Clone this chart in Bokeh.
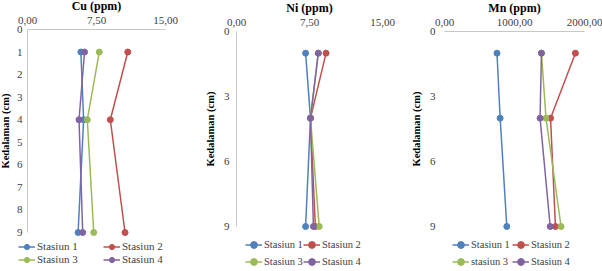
from bokeh.plotting import figure
from bokeh.models import Range1d, FixedTicker, Legend, LegendItem
from bokeh.layouts import row
from bokeh.embed import file_html
from bokeh.resources import INLINE

# Sampling depths (cm)
depth = [1, 4, 9]

stations = ["Stasiun 1", "Stasiun 2", "Stasiun 3", "Stasiun 4"]
colors = ["#4F81BD", "#C0504D", "#9BBB59", "#8064A2"]

# Cu concentration (ppm) per station at each depth
cu_s1 = [5.8, 6.1, 5.5]
cu_s2 = [10.9, 9.0, 10.6]
cu_s3 = [7.8, 6.5, 7.2]
cu_s4 = [6.2, 5.6, 6.0]

# Ni concentration (ppm)
ni_s1 = [7.1, 7.6, 7.1]
ni_s2 = [9.2, 7.6, 8.1]
ni_s3 = [8.4, 7.6, 8.5]
ni_s4 = [8.4, 7.6, 7.9]

# Mn concentration (ppm)
mn_s1 = [750, 795, 890]
mn_s2 = [1870, 1515, 1585]
mn_s3 = [1385, 1450, 1665]
mn_s4 = [1385, 1365, 1510]

cu_xticks = [0, 7.5, 15]
cu_xlabels = ["0,00", "7,50", "15,00"]
ni_xticks = [0, 7.5, 15]
ni_xlabels = ["0,00", "7,50", "15,00"]
mn_xticks = [0, 1000, 2000]
mn_xlabels = ["0,00", "1000,00", "2000,00"]

cu_yticks = [0, 1, 2, 3, 4, 5, 6, 7, 8, 9]
ni_yticks = [0, 3, 6, 9]
mn_yticks = [0, 3, 6, 9]

SERIF = "Liberation Serif"
AXIS_GRAY = "#C8C8C8"
TEXT_GRAY = "#404040"
LINE_W = 1.5
MARK = 6
H = 271
DEPTH_MAX = 9


def stretch(px0, px1, v0, v1, total):
    """Range that puts v0 at pixel px0 and v1 at pixel px1 across `total` px."""
    k = (v1 - v0) / (px1 - px0)
    return v0 - px0 * k, v0 + (total - px0) * k


def profile(title, series, names, xmax, xticks, xlabels, yticks, width,
            ax_left, ax_right, ax_top, ax_bottom, show_left_line, show_top_line,
            x_standoff, x_title_standoff, y_standoff, y_title_standoff,
            leg_x, leg_y, leg_label_w, leg_font, leg_row_h):
    x0, x1 = stretch(ax_left, ax_right, 0, xmax, width)
    top_d, bot_d = stretch(ax_top, ax_bottom, 0, DEPTH_MAX, H)
    p = figure(width=width, height=H, output_backend="svg",
               toolbar_location=None, x_axis_location="above",
               x_range=Range1d(x0, x1), y_range=Range1d(bot_d, top_d),
               min_border=0)
    p.outline_line_color = None
    p.grid.visible = False

    xa = p.xaxis[0]
    xa.fixed_location = 0
    xa.bounds = (0, xmax)
    xa.ticker = FixedTicker(ticks=xticks)
    xa.major_label_overrides = dict(zip(xticks, xlabels))
    xa.major_tick_line_color = None
    xa.minor_tick_line_color = None
    xa.major_tick_out = 0
    xa.major_tick_in = 0
    xa.minor_tick_out = 0
    xa.minor_tick_in = 0
    xa.major_label_standoff = x_standoff
    xa.axis_label = title
    xa.axis_label_standoff = x_title_standoff
    xa.axis_label_text_font = SERIF
    xa.axis_label_text_font_style = "bold"
    xa.axis_label_text_font_size = "12px"
    xa.axis_label_text_color = "black"
    xa.major_label_text_font = SERIF
    xa.major_label_text_font_size = "11px"
    xa.major_label_text_color = TEXT_GRAY
    xa.axis_line_color = AXIS_GRAY if show_top_line else None

    ya = p.yaxis[0]
    ya.fixed_location = 0
    ya.bounds = (0, DEPTH_MAX)
    ya.ticker = FixedTicker(ticks=yticks)
    ya.major_tick_line_color = None
    ya.minor_tick_line_color = None
    ya.major_tick_out = 0
    ya.major_tick_in = 0
    ya.minor_tick_out = 0
    ya.minor_tick_in = 0
    ya.major_label_standoff = y_standoff
    ya.axis_label = "Kedalaman (cm)"
    ya.axis_label_standoff = y_title_standoff
    ya.axis_label_text_font = SERIF
    ya.axis_label_text_font_style = "bold"
    ya.axis_label_text_font_size = "10.5px"
    ya.axis_label_text_color = "black"
    ya.major_label_text_font = SERIF
    ya.major_label_text_font_size = "11px"
    ya.major_label_text_color = TEXT_GRAY
    ya.axis_line_color = AXIS_GRAY if show_left_line else None

    items = []
    for vals, name, c in zip(series, names, colors):
        ln = p.line(vals, depth, line_color=c, line_width=LINE_W)
        sc = p.scatter(vals, depth, size=MARK, marker="circle",
                       fill_color=c, line_color=c)
        items.append(LegendItem(label=name, renderers=[ln, sc]))

    leg = Legend(items=items, orientation="horizontal", ncols=2,
                 location=(leg_x, leg_y))
    leg.border_line_color = None
    leg.background_fill_color = None
    leg.padding = 0
    leg.margin = 0
    leg.spacing = 0
    leg.glyph_width = 17
    leg.glyph_height = leg_row_h
    leg.label_height = leg_row_h
    leg.label_width = leg_label_w
    leg.label_standoff = 2
    leg.label_text_font = SERIF
    leg.label_text_font_size = leg_font
    leg.label_text_color = TEXT_GRAY
    p.add_layout(leg, "center")
    return p


p_cu = profile("Cu (ppm)", [cu_s1, cu_s2, cu_s3, cu_s4], stations, 15,
               cu_xticks, cu_xlabels, cu_yticks, 200,
               27, 165, 29, 232, True, True,
               6, 1, 5, 3,
               18, 5.5, 66, "11px", 13)

p_ni = profile("Ni (ppm)", [ni_s1, ni_s2, ni_s3, ni_s4], stations, 15,
               ni_xticks, ni_xlabels, ni_yticks, 200,
               36, 182, 31, 226, True, False,
               6, 1, 7, 5,
               45, 1.5, 39, "10.5px", 17)

p_mn = profile("Mn (ppm)", [mn_s1, mn_s2, mn_s3, mn_s4],
               ["Stasiun 1", "Stasiun 2", "stasiun 3", "Stasiun 4"], 2000,
               mn_xticks, mn_xlabels, mn_yticks, 202,
               44, 184, 31, 226, False, True,
               6, 1, 9, 5,
               52, 1.5, 41, "10.5px", 17)

layout = row(p_cu, p_ni, p_mn)
open("out.html", "w").write(file_html(layout, INLINE))
